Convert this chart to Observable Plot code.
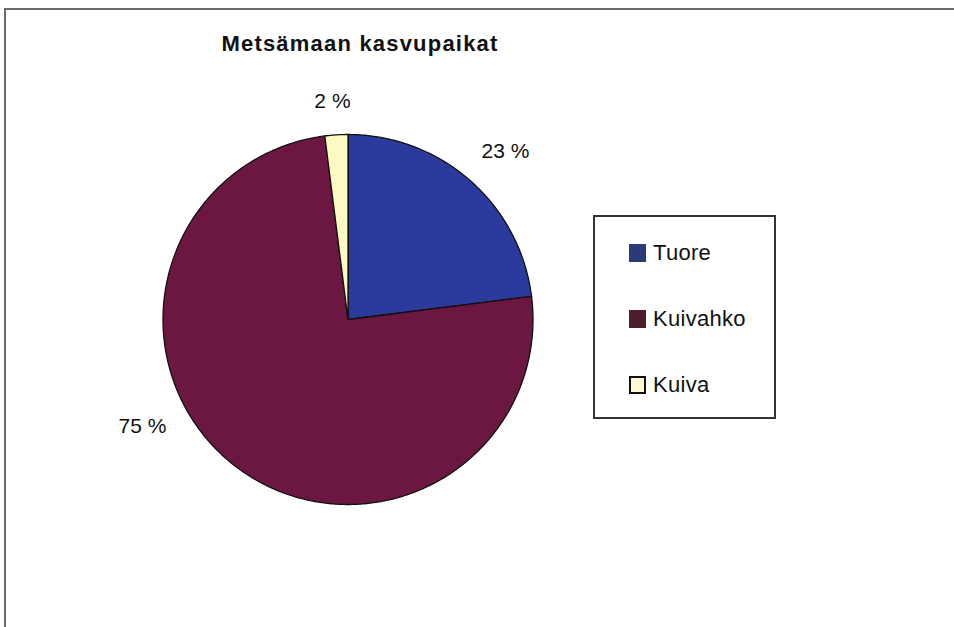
<!DOCTYPE html>
<html>
<head>
<meta charset="utf-8">
<script src="https://cdn.jsdelivr.net/npm/d3@7"></script>
<script src="https://cdn.jsdelivr.net/npm/@observablehq/plot@0.6"></script>
<style>
  body { margin: 0; background: #fff; font-family: Arial, "Liberation Sans", sans-serif; }
  #wrap { position: relative; width: 954px; height: 627px; overflow: hidden; }
  #frame { position: absolute; left: 4px; top: 8px; width: 960px; height: 640px;
           border-top: 2px solid #6a6a6a; border-left: 2px solid #6a6a6a; }
  #title { position: absolute; left: 0; width: 720px; top: 31px; text-align: center;
           font-weight: bold; font-size: 22px; letter-spacing: 1.2px; color: #111; }
  #legend { position: absolute; left: 593px; top: 215px; width: 183px; height: 204px;
            border: 2px solid #333; box-sizing: border-box; }
  .item { position: absolute; left: 34px; height: 20px; font-size: 22px; color: #111; line-height: 20px; }
  .sw { position: absolute; left: 0; top: 1px; width: 17px; height: 18px; box-sizing: border-box; }
  .lab { position: absolute; left: 24px; top: 0; white-space: nowrap; letter-spacing: 0.3px; }
  #chart { position: absolute; left: 0; top: 0; }
</style>
</head>
<body>
<div id="wrap">
  <div id="frame"></div>
  <div id="chart"></div>
  <div id="title"></div>
  <div id="legend"></div>
</div>
<script>
const title = "Metsämaan kasvupaikat";
const categories = ["Tuore", "Kuivahko", "Kuiva"];
const values = [23, 75, 2];
const labels = ["23 %", "75 %", "2 %"];
const sliceColors = ["#2b3a9c", "#6c1741", "#fdf9c2"];
const swatchColors = ["#2c3a78", "#4c1e2e", "#fdf9d4"];

// layout / style (pixels)
const cx = 347.5, cy = 319, R = 185;
const labelR = 1.2;
const labelNudge = [[10.7, -1.5], [-69.5, -68.8], [-1.6, 3.1]];
const legendTops = [26, 92, 158];

document.getElementById("title").textContent = title;

const pie = d3.pie().sort(null).value(d => d)(values);
const points = [];
pie.forEach((p, i) => {
  const n = Math.max(4, Math.ceil((p.endAngle - p.startAngle) / 0.01));
  points.push({name: categories[i], x: 0, y: 0});
  for (let k = 0; k <= n; k++) {
    const a = p.startAngle + (p.endAngle - p.startAngle) * k / n;
    points.push({name: categories[i], x: Math.sin(a), y: Math.cos(a)});
  }
  points.push({name: categories[i], x: 0, y: 0});
});

const labelData = pie.map((p, i) => {
  const a = (p.startAngle + p.endAngle) / 2;
  return {
    text: labels[i],
    x: labelR * Math.sin(a) + labelNudge[i][0] / R,
    y: labelR * Math.cos(a) - labelNudge[i][1] / R
  };
});

const chart = Plot.plot({
  width: 954,
  height: 627,
  margin: 0,
  x: {type: "linear", domain: [-1, 1], range: [cx - R, cx + R], axis: null},
  y: {type: "linear", domain: [-1, 1], range: [cy + R, cy - R], axis: null},
  color: {domain: categories, range: sliceColors},
  style: {background: "transparent", fontFamily: "Arial, 'Liberation Sans', sans-serif"},
  marks: [
    Plot.line(points, {x: "x", y: "y", z: "name", fill: "name", stroke: "#111", strokeWidth: 1.3, strokeLinejoin: "round", curve: "linear"}),
    Plot.text(labelData, {x: "x", y: "y", text: "text", fontSize: 21, fill: "#111"})
  ]
});
document.getElementById("chart").appendChild(chart);

const legend = document.getElementById("legend");
categories.forEach((c, i) => {
  const it = document.createElement("div");
  it.className = "item";
  it.style.top = legendTops[i] + "px";
  const sw = document.createElement("div");
  sw.className = "sw";
  sw.style.background = swatchColors[i];
  if (i === 2) sw.style.border = "2px solid #111";
  const lab = document.createElement("div");
  lab.className = "lab";
  lab.textContent = c;
  it.appendChild(sw); it.appendChild(lab);
  legend.appendChild(it);
});
</script>
</body>
</html>
